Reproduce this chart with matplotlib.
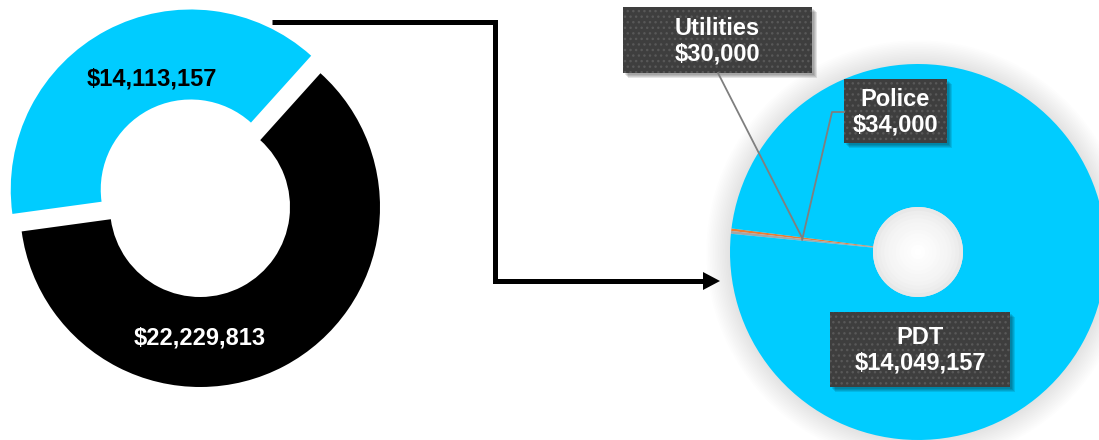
import numpy as np
import matplotlib
matplotlib.use('Agg')
import matplotlib.pyplot as plt
from matplotlib.patches import Circle, Rectangle

plt.rcParams['font.family'] = ['Liberation Sans', 'DejaVu Sans']

# data
left_labels = ['PDT total', 'Other']
left_values = [14113157, 22229813]
left_colors = ['#00CCFF', '#000000']

right_labels = ['Utilities', 'Police', 'PDT']
right_values = [30000, 34000, 14049157]
right_colors = ['#ED7D31', '#A5A5A5', '#00CCFF']

W, H = 1099, 440
fig = plt.figure(figsize=(W / 100, H / 100), dpi=100)

# left donut (centre 200,207 px, radius 180 px)
ax1 = fig.add_axes([0, 0, 400 / W, 1])
ax1.pie(left_values, colors=left_colors, startangle=48, explode=[0.11, 0],
        wedgeprops=dict(width=0.5, linewidth=0))
ax1.set_aspect('auto')
ax1.set_xlim(-200 / 180, 200 / 180)
ax1.set_ylim(-(H - 207) / 180, 207 / 180)
ax1.text(-0.267, 0.711, '$%s' % format(left_values[0], ','), ha='center', va='center',
         fontsize=17, fontweight='bold', color='black')
ax1.text(0.0, -0.728, '$%s' % format(left_values[1], ','), ha='center', va='center',
         fontsize=17, fontweight='bold', color='white')

# right donut (centre 918,252 px, radius 188 px)
R = 188.0
cx, cy = 918, 252
ax2 = fig.add_axes([600 / W, 0, 499 / W, 1])
hole = 45 / R
# soft shadow round the ring
for i in range(14):
    ax2.add_patch(Circle((0, 0), 1.0 + 0.009 * (14 - i), color='black', alpha=0.009,
                         lw=0, zorder=0))
wedges, _ = ax2.pie(right_values, colors=right_colors, startangle=172.8,
                    wedgeprops=dict(width=1 - hole, linewidth=0))
# shaded hole
for i in range(12):
    r = hole * (1 - i / 12.0)
    g = 0.91 + 0.09 * (i / 11.0) ** 0.6
    ax2.add_patch(Circle((0, 0), r, color=(g, g, g), lw=0, zorder=3))
ax2.set_aspect('auto')
ax2.set_xlim((600 - cx) / R, (W - cx) / R)
ax2.set_ylim(-(H - cy) / R, cy / R)

# overlay in pixel coordinates
ax0 = fig.add_axes([0, 0, 1, 1], zorder=5)
ax0.set_xlim(0, W)
ax0.set_ylim(H, 0)
ax0.axis('off')

# connector arrow
ax0.plot([272, 495, 495, 705], [22, 22, 281, 281], color='black', lw=3.6,
         solid_joinstyle='miter', solid_capstyle='butt')
ax0.fill([703, 720, 703], [272, 281, 290], color='black', lw=0)

# leader lines to the tiny slices
total = sum(right_values)
mid_r = (1 + hole) / 2
to_px = lambda p: ax0.transData.inverted().transform(ax2.transData.transform(p))
targets = []
start = 172.8
for v in right_values[:2]:
    a = np.deg2rad(start + v / total * 180)
    targets.append(to_px((mid_r * np.cos(a), mid_r * np.sin(a))))
    start += v / total * 360
ax0.plot([718, targets[0][0]], [73, targets[0][1]], color='#7F7F7F', lw=1.3)
ax0.plot([targets[1][0], 832, 844], [targets[1][1], 112, 112], color='#7F7F7F', lw=1.3)


def label_box(x0, y0, x1, y1, txt):
    for k in range(4):
        ax0.add_patch(Rectangle((x0 + 2 + k, y0 + 2 + k), x1 - x0, y1 - y0,
                                color='black', alpha=0.1, lw=0))
    ax0.add_patch(Rectangle((x0, y0), x1 - x0, y1 - y0, facecolor='#3E3E3E', lw=0))
    ax0.add_patch(Rectangle((x0, y0), x1 - x0, y1 - y0, facecolor='none',
                            edgecolor='#585858', lw=0, hatch='...'))
    ax0.text((x0 + x1) / 2, (y0 + y1) / 2 + 1, txt, ha='center', va='center',
             fontsize=17, fontweight='bold', color='white', linespacing=1.15)


label_box(623, 7, 812, 73, '%s\n$%s' % (right_labels[0], format(right_values[0], ',')))
label_box(844, 79, 947, 143, '%s\n$%s' % (right_labels[1], format(right_values[1], ',')))
label_box(830, 312, 1010, 387, '%s\n$%s' % (right_labels[2], format(right_values[2], ',')))

fig.savefig('out.png', dpi=100)
